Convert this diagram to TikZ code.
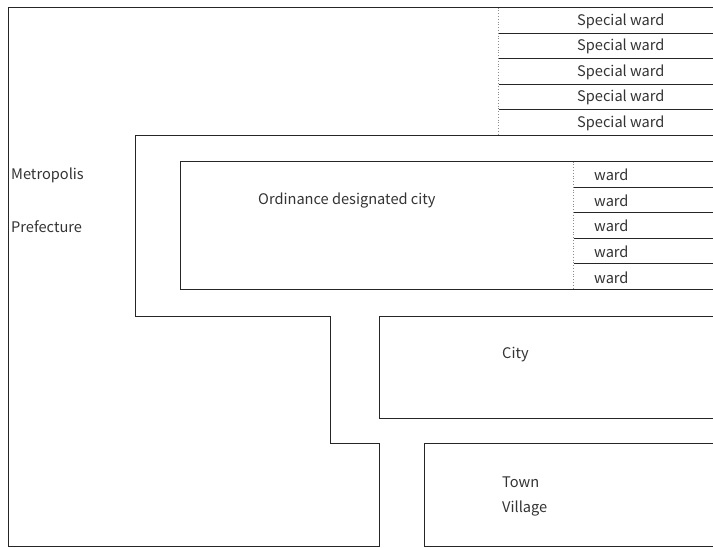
\documentclass[tikz,border=0pt]{standalone}
\usepackage{fontspec}
\setmainfont{Noto Sans CJK JP}
\begin{document}
\begin{tikzpicture}[x=1pt,y=-1pt,
  edge/.style={draw=black!85,line width=0.9pt},
  divider/.style={draw=black!45,line width=0.8pt,dotted},
  label/.style={anchor=west,inner sep=0pt,font=\fontsize{14.6}{16}\selectfont,text=black!80}]
\useasboundingbox (0,0) rectangle (713,547);

% prefecture outline with its indented inner boundary
\draw[edge] (713,7.5) -- (8,7.5) -- (8,546) -- (379,546) -- (379,443) -- (330,443)
  -- (330,316) -- (135,316) -- (135,135.5) -- (713,135.5);

% special wards strip
\draw[divider] (498.5,7.5) -- (498.5,135.5);
\foreach \y in {33.1,58.7,84.3,109.9}
  \draw[edge] (498.5,\y) -- (713,\y);
\foreach \y/\n in {20/sw1,45.6/sw2,71.2/sw3,96.8/sw4,122.4/sw5}
  \node[label] (\n) at (577,\y+1) {Special ward};

% ordinance designated city
\draw[edge] (713,161.5) -- (180,161.5) -- (180,289.5) -- (713,289.5);
\draw[divider] (573.5,161.5) -- (573.5,289.5);
\foreach \y in {187.1,212.7,238.3,263.9}
  \draw[edge] (573.5,\y) -- (713,\y);
\foreach \y/\n in {174,199.6,225.2,250.8,276.4}
  \node[label] (w\n) at (594,\y+1) {ward};
\node[label] (odc) at (258,200.6) {Ordinance designated city};

% city
\draw[edge] (713,316) -- (379,316) -- (379,418) -- (713,418);
\node[label] (city) at (502,354.5) {City};

% town and village
\draw[edge] (713,443) -- (424,443) -- (424,546) -- (713,546);
\node[label] (town) at (502,482.5) {Town};
\node[label] (village) at (502,508.5) {Village};

% prefecture labels
\node[label] (metro) at (11,175.5) {Metropolis};
\node[label] (pref) at (11,226.5) {Prefecture};
\end{tikzpicture}
\end{document}
